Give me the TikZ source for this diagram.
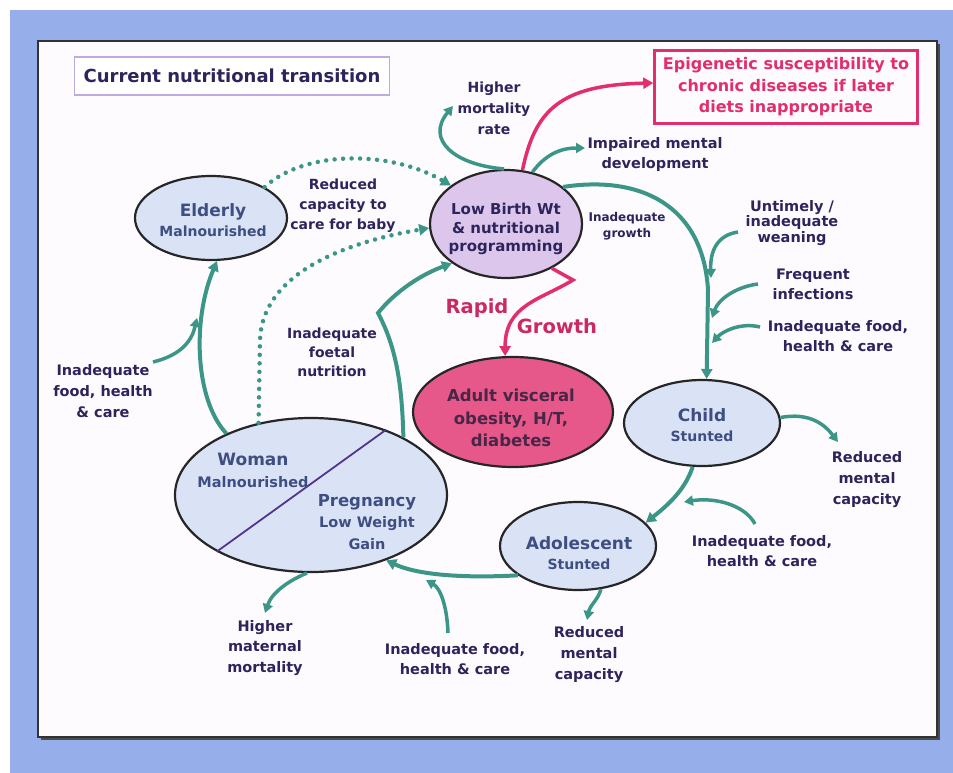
\documentclass[tikz,border=0pt]{standalone}
\usepackage{fontspec}
\setmainfont{DejaVu Sans}
\usetikzlibrary{arrows.meta,shapes.geometric}
\definecolor{bgblue}{RGB}{150,174,234}
\definecolor{panelc}{RGB}{253,251,254}
\definecolor{flowc}{RGB}{60,150,135}
\definecolor{labc}{RGB}{45,36,92}
\definecolor{slatec}{RGB}{62,78,130}
\definecolor{lblue}{RGB}{218,227,246}
\definecolor{lilac}{RGB}{220,198,236}
\definecolor{hotpink}{RGB}{230,88,138}
\definecolor{adultc}{RGB}{72,38,70}
\definecolor{pinkc}{RGB}{226,46,108}
\definecolor{titleb}{RGB}{190,170,222}
\definecolor{divc}{RGB}{82,52,140}
\tikzset{
  lab/.style={font=\bfseries\fontsize{14.5}{20}\selectfont, text=labc, align=center, inner sep=1pt},
  etext/.style={font=\bfseries\fontsize{14}{20}\selectfont, text=slatec, align=center, inner sep=0pt},
  ell/.style={ellipse, draw=black!85, line width=2.2pt, inner sep=0pt},
  flow/.style={draw=flowc, line width=4pt, -{Triangle[length=10pt,width=11pt]}},
  feed/.style={draw=flowc, line width=3.5pt, -{Triangle[length=9pt,width=10pt]}},
  dotflow/.style={draw=flowc, line width=4.5pt, dash pattern=on 0pt off 8.5pt, line cap=round, -{Triangle[length=10pt,width=11pt]}},
  pinkflow/.style={draw=pinkc, line width=3.5pt, -{Triangle[length=10pt,width=11pt]}},
  rapidtext/.style={font=\bfseries\fontsize{19.5}{22}\selectfont, text=pinkc!90!black, inner sep=0pt}
}
\begin{document}
\begin{tikzpicture}[x=1pt,y=-1pt]
\useasboundingbox (0,0) rectangle (953,773);
\fill[white] (0,0) rectangle (953,773);
\fill[bgblue] (10,10) rectangle (953,773);
\fill[black!70] (41,44) rectangle (940,740);
\filldraw[fill=panelc, draw=black!80, line width=1.5pt] (38,41) rectangle (937,737);

% title and epigenetic box
\node[draw=titleb, line width=1.2pt, fill=white, minimum width=315pt, minimum height=38pt,
      font=\bfseries\fontsize{18}{20}\selectfont, text=labc, inner sep=0pt] (title) at (232,76) {Current nutritional transition};
\node[draw=pinkc, line width=2.5pt, minimum width=263pt, minimum height=73pt,
      font=\bfseries\fontsize{16}{21.5}\selectfont, text=pinkc, align=center, inner sep=0pt] (epi) at (786,87)
      {Epigenetic susceptibility to\\chronic diseases if later\\diets inappropriate};

% ellipses
\node[ell, fill=lblue, minimum width=152pt, minimum height=84pt] (elderly) at (211,218) {};
\node[ell, fill=lilac, minimum width=152pt, minimum height=108pt] (lbw) at (506,224) {};
\node[ell, fill=hotpink, minimum width=200pt, minimum height=110pt] (adult) at (513,412) {};
\node[ell, fill=lblue, minimum width=156pt, minimum height=86pt] (child) at (702,423) {};
\node[ell, fill=lblue, minimum width=156pt, minimum height=88pt] (ado) at (578,546) {};
\node[ell, fill=lblue, minimum width=272pt, minimum height=154pt] (woman) at (311,495) {};
\draw[divc, line width=1.8pt] (woman.211) -- (woman.41);

% ellipse texts
\node[etext] (eldt) at (213,220) {{\fontsize{17}{20}\selectfont Elderly}\\Malnourished};
\node[font=\bfseries\fontsize{15}{18.5}\selectfont, text=labc, align=center, inner sep=0pt] (lbwt) at (506,229)
      {Low Birth Wt\\\& nutritional\\programming};
\node[font=\bfseries\fontsize{16.5}{22.5}\selectfont, text=adultc, align=center, inner sep=0pt] (adultt) at (511,418)
      {Adult visceral\\obesity, H/T,\\diabetes};
\node[etext] (childt) at (702,425) {{\fontsize{17}{20}\selectfont Child}\\Stunted};
\node[etext] (adot) at (579,553) {{\fontsize{17}{20}\selectfont Adolescent}\\Stunted};
\node[etext, font=\bfseries\fontsize{14.5}{22}\selectfont] (womant) at (253,470) {{\fontsize{17}{20}\selectfont Woman}\\Malnourished};
\node[etext, font=\bfseries\fontsize{14.5}{21.5}\selectfont] (pregt) at (367,522) {{\fontsize{16.5}{20}\selectfont Pregnancy}\\Low Weight\\Gain};

% labels
\node[lab, font=\bfseries\fontsize{14}{21}\selectfont] (mort) at (494,108) {Higher\\mortality\\rate};
\node[lab] (imp) at (655,154) {Impaired mental\\development};
\node[lab, font=\bfseries\fontsize{12}{16}\selectfont] (ig) at (627,226) {Inadequate\\growth};
\node[lab, font=\bfseries\fontsize{14.5}{15.5}\selectfont] (wean) at (792,223) {Untimely /\\inadequate\\weaning};
\node[lab] (freq) at (813,284) {Frequent\\infections};
\node[lab] (food1) at (838,336) {Inadequate food,\\health \& care};
\node[lab, font=\bfseries\fontsize{14.5}{21}\selectfont] (red1) at (867,480) {Reduced\\mental\\capacity};
\node[lab] (food2) at (762,551) {Inadequate food,\\health \& care};
\node[lab, font=\bfseries\fontsize{14.5}{21}\selectfont] (red2) at (589,655) {Reduced\\mental\\capacity};
\node[lab] (food3) at (455,659) {Inadequate food,\\health \& care};
\node[lab, font=\bfseries\fontsize{14.5}{20.5}\selectfont] (mat) at (265,648) {Higher\\maternal\\mortality};
\node[lab, font=\bfseries\fontsize{14.5}{21}\selectfont] (food4) at (103,391) {Inadequate\\food, health\\\& care};
\node[lab, font=\bfseries\fontsize{14}{20}\selectfont] (care) at (343,206) {Reduced\\capacity to\\care for baby};
\node[lab, font=\bfseries\fontsize{14}{19}\selectfont] (foet) at (332,352) {Inadequate\\foetal\\nutrition};
\node[rapidtext] (rapid) at (477,308) {Rapid};
\node[rapidtext] (growth) at (557,326) {Growth};

% free ends
\coordinate (mortend) at (453,106);
\coordinate (impend) at (585,148);
\coordinate (bend) at (708,290);
\coordinate (w1s) at (738,232);  \coordinate (w1e) at (711,278);
\coordinate (w2s) at (758,284);  \coordinate (w2e) at (712,318);
\coordinate (w3s) at (760,327);  \coordinate (w3e) at (712,343);
\coordinate (red1end) at (838,442);
\coordinate (f2s) at (755,524);  \coordinate (f2e) at (684,502);
\coordinate (f3s) at (448,633);  \coordinate (f3e) at (426,580);
\coordinate (red2end) at (587,620);
\coordinate (matend) at (265,613);
\coordinate (f4s) at (153,362);  \coordinate (f4e) at (197,318);
\coordinate (kink) at (378,313);
\coordinate (dotbend) at (260,340);
\coordinate (zig) at (573,280);

% connectors
\draw[flow] (lbw.33) .. controls (640,175) and (703,205) .. (bend) -- (child.84);
\draw[feed] (w1s) .. controls (718,235) and (710,250) .. (w1e);
\draw[feed] (w2s) .. controls (735,287) and (718,300) .. (w2e);
\draw[feed] (w3s) .. controls (740,322) and (722,332) .. (w3e);
\draw[feed] (child.4) .. controls (810,412) and (825,425) .. (red1end);
\draw[flow] (child.-102) .. controls (685,490) and (668,505) .. (ado.19);
\draw[feed] (f2s) .. controls (745,505) and (715,497) .. (f2e);
\draw[flow] (ado.206) .. controls (470,578) and (420,576) .. (woman.-41);
\draw[feed] (f3s) .. controls (447,605) and (440,588) .. (f3e);
\draw[feed] (ado.-62) .. controls (598,600) and (590,605) .. (red2end);
\draw[feed] (woman.-93) .. controls (290,580) and (272,592) .. (matend);
\draw[flow] (woman.144) .. controls (195,400) and (192,320) .. (elderly.-82);
\draw[feed] (f4s) .. controls (182,355) and (192,340) .. (f4e);
\draw[flow] (woman.32) .. controls (402,380) and (395,345) .. (kink) .. controls (395,292) and (420,275) .. (lbw.216);
\draw[dotflow] (elderly.30) .. controls (305,150) and (390,150) .. (lbw.145);
\draw[dotflow] (woman.126) -- (dotbend) .. controls (262,280) and (330,245) .. (lbw.183);
\draw[feed] (lbw.92) .. controls (455,165) and (425,140) .. (mortend);
\draw[feed] (lbw.63) .. controls (545,155) and (560,148) .. (impend);
\draw[pinkflow] (lbw.73) .. controls (535,110) and (560,85) .. ([yshift=4pt]epi.west);
\draw[pinkflow] (lbw.-44) -- (zig) .. controls (540,300) and (505,305) .. (adult.98);
\end{tikzpicture}
\end{document}
